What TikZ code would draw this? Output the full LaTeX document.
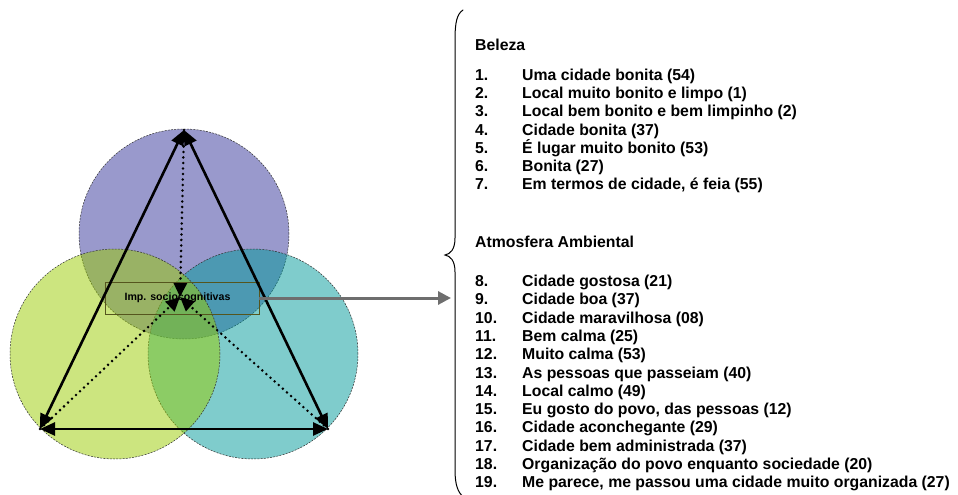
\documentclass[tikz,border=0pt]{standalone}
\usepackage{fontspec}
\setmainfont{Liberation Sans}
\usetikzlibrary{arrows.meta}
\definecolor{cpurple}{RGB}{51,51,153}
\definecolor{cteal}{RGB}{0,153,153}
\definecolor{cgreen}{RGB}{153,204,0}
\definecolor{boxc}{RGB}{85,85,30}
\definecolor{arrgray}{RGB}{110,110,110}
\begin{document}
\begin{tikzpicture}[x=1pt,y=-1pt,
  circ/.style={circle, minimum size=210pt, inner sep=0pt, draw=black!80, dash pattern=on 2pt off 1.2pt, line width=0.5pt, fill opacity=0.5},
  side/.style={line width=2.6pt, {Triangle[length=15pt,width=13pt]}-{Triangle[length=15pt,width=13pt]}},
  dots/.style={line width=2.8pt, dash pattern=on 0pt off 5.5pt, line cap=round, -{Triangle[length=14pt,width=13pt,line cap=butt]}},
  item/.style={anchor=base west, font=\bfseries\fontsize{15.8}{18}\selectfont, inner sep=0pt},
]
\useasboundingbox (0,0) rectangle (958,495);
% circles
\node[circ, fill=cpurple] (ctop) at (184,234) {};
\node[circ, fill=cteal] (cright) at (253,354) {};
\node[circ, fill=cgreen] (cleft) at (115,354) {};
% box
\node[draw=boxc, line width=0.8pt, minimum width=154pt, minimum height=32pt, inner sep=0pt] (box) at (182,298) {};
\node[font=\bfseries\fontsize{10.6}{12}\selectfont, inner sep=0pt] (boxtext) at (177.5,298) {Imp. sociocognitivas};
% vertices
\coordinate (A) at (184,130);
\coordinate (BL) at (40,429);
\coordinate (BR) at (328,429);
\coordinate (C) at (180,297);
\draw[side] (A) -- (BL);
\draw[side] (A) -- (BR);
\draw[side] (BL) -- (BR);
\draw[dots] (A) -- (C);
\draw[dots] (BL) -- (C);
\draw[dots] (BR) -- (C);
% gray connector
\coordinate (tip) at (451,298);
\draw[arrgray, line width=3pt, -{Triangle[length=13pt,width=13pt]}] (box.east) -- (tip);
% brace
\draw[line width=1pt, line cap=round] (463,10) .. controls (457,14) and (455,22) .. (455,40) -- (455,238) .. controls (455,250) and (450,254) .. (445,255) .. controls (450,256) and (455,260) .. (455,272) -- (455,470) .. controls (455,485) and (458,492) .. (463,497);
% texts
\node[item] (hb) at (475,50.5) {Beleza};
\foreach \n/\t [count=\i from 0] in {1./Uma cidade bonita (54), 2./Local muito bonito e limpo (1), 3./Local bem bonito e bem limpinho (2), 4./Cidade bonita (37), 5./É lugar muito bonito (53), 6./Bonita (27), 7./{Em termos de cidade, é feia (55)}}{
  \node[item] (n\n) at (475,80.5+18.2*\i) {\n};
  \node[item] (t\n) at (522,80.5+18.2*\i) {\t};
}
\node[item] (ha) at (475,247.5) {Atmosfera Ambiental};
\foreach \n/\t [count=\i from 0] in {8./Cidade gostosa (21), 9./Cidade boa (37), 10./Cidade maravilhosa (08), 11./Bem calma (25), 12./Muito calma (53), 13./As pessoas que passeiam (40), 14./Local calmo (49), 15./{Eu gosto do povo, das pessoas (12)}, 16./Cidade aconchegante (29), 17./Cidade bem administrada (37), 18./Organização do povo enquanto sociedade (20), 19./{Me parece, me passou uma cidade muito organizada (27)}}{
  \node[item] (n\n) at (475,286.5+18.3*\i) {\n};
  \node[item] (t\n) at (522,286.5+18.3*\i) {\t};
}
\end{tikzpicture}
\end{document}
